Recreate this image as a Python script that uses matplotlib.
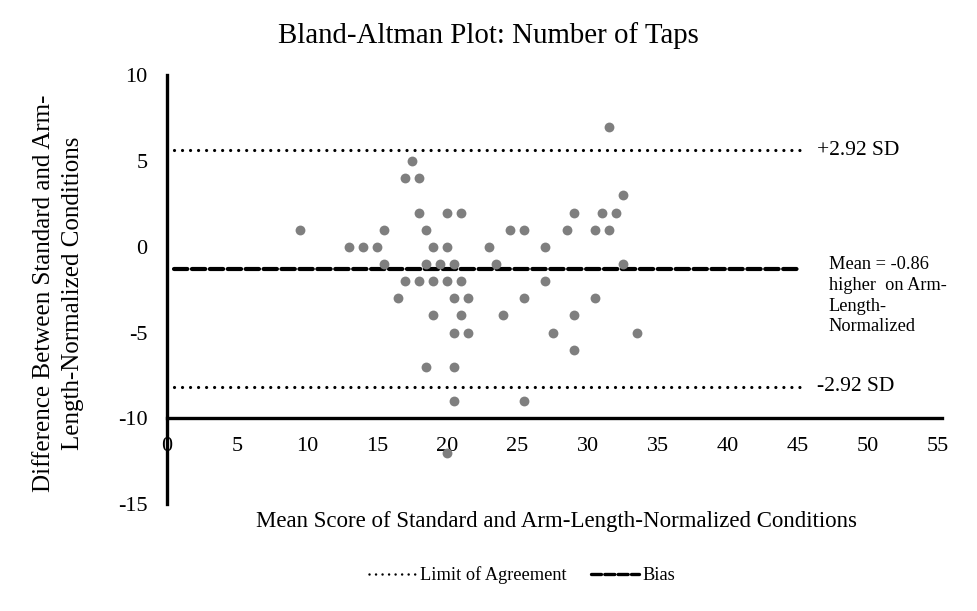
import matplotlib
matplotlib.use("Agg")
import matplotlib.pyplot as plt
from matplotlib.lines import Line2D

plt.rcParams['font.family'] = ['Liberation Serif', 'DejaVu Serif']
plt.rcParams['axes.unicode_minus'] = False

# ---- data ----
mean_scores = [9.5, 13, 14, 15, 15.5, 15.5, 16.5, 17, 18, 17.5,
               18, 20, 21, 18.5, 19, 20, 18.5, 19.5, 20.5,
               17, 18, 19, 20, 21, 20.5, 21.5, 19, 21, 20.5, 21.5,
               18.5, 20.5, 20.5, 20,
               23, 23.5, 24, 24.5, 25.5, 25.5, 25.5, 27, 27, 27.5, 28.5,
               29, 29, 29, 30.5, 30.5, 31.5, 31, 32, 32.5, 31.5, 32.5, 33.5]
differences = [1, 0, 0, 0, 1, -1, -3, 4, 4, 5,
               2, 2, 2, 1, 0, 0, -1, -1, -1,
               -2, -2, -2, -2, -2, -3, -3, -4, -4, -5, -5,
               -7, -7, -9, -12,
               0, -1, -4, 1, 1, -3, -9, 0, -2, -5, 1,
               2, -4, -6, -3, 1, 1, 2, 2, 3, 7, -1, -5]
bias = -1.27
upper_loa = 5.64
lower_loa = -8.17
line_x = [0.5, 45.3]
x_ticks = [0, 5, 10, 15, 20, 25, 30, 35, 40, 45, 50, 55]
y_ticks = [10, 5, 0, -5, -10, -15]

title = "Bland-Altman Plot: Number of Taps"
xlabel = "Mean Score of Standard and Arm-Length-Normalized Conditions"
ylabel = "Difference Between Standard and Arm-\nLength-Normalized Conditions"
upper_text = "+2.92 SD"
lower_text = "-2.92 SD"
mean_text = "Mean = -0.86\nhigher  on Arm-\nLength-\nNormalized"

W, H = 977, 611
fig = plt.figure(figsize=(W / 100, H / 100), dpi=100)
left, right = 167 / W, 938 / W
top, bottom = 1 - 75.5 / H, 1 - 504 / H
ax = fig.add_axes([left, bottom, right - left, top - bottom])
ax.set_xlim(0, 55)
ax.set_ylim(-15, 10)

for s in ['top', 'right']:
    ax.spines[s].set_visible(False)
ax.spines['left'].set_linewidth(2.4)
ax.spines['bottom'].set_linewidth(2.4)
ax.spines['bottom'].set_position(('data', -10))
ax.spines['bottom'].set_bounds(0, 55.3)
ax.set_xticks(x_ticks)
ax.set_yticks(y_ticks)
ax.tick_params(axis='x', length=0, pad=13.5, labelsize=16)
ax.tick_params(axis='y', length=0, pad=14, labelsize=16)

ax.plot(line_x, [upper_loa, upper_loa], color='black', lw=2.3,
        linestyle=(0, (0.01, 2.5)), dash_capstyle='round', zorder=2)
ax.plot(line_x, [lower_loa, lower_loa], color='black', lw=2.3,
        linestyle=(0, (0.01, 2.5)), dash_capstyle='round', zorder=2)
ax.plot([0.5, 45.0], [bias, bias], color='black', lw=3.0,
        linestyle=(0, (3.2, 1.1)), dash_capstyle='round', zorder=2)

ax.scatter(mean_scores, differences, s=50, color='#7f7f7f', linewidths=0, zorder=3)

ax.text(46.4, upper_loa, upper_text, fontsize=15.5, va='center', ha='left')
ax.text(46.4, lower_loa, lower_text, fontsize=15.5, va='center', ha='left')
ax.text(47.2, -2.85, mean_text, fontsize=13.2, va='center', ha='left', linespacing=1.29)

fig.text(488 / W, 1 - 36 / H, title, fontsize=20.8, ha='center', va='center')
fig.text(556 / W, 1 - 522 / H, xlabel, fontsize=16.5, ha='center', va='center')
fig.text(58.5 / W, 1 - 293 / H, ylabel, fontsize=18, ha='center', va='center',
         rotation=90, multialignment='center', linespacing=1.45)

h1 = Line2D([], [], color='black', lw=1.8, linestyle=(0, (0.01, 2.6)), dash_capstyle='round')
h2 = Line2D([], [], color='black', lw=2.4, linestyle=(0, (3.0, 1.0)), dash_capstyle='round')
fig.legend([h1, h2], ["Limit of Agreement", "Bias"], loc='center',
           bbox_to_anchor=(522 / W, 1 - 575 / H), ncol=2, frameon=False,
           fontsize=13.2, handlelength=2.6, handletextpad=0.2, columnspacing=1.3)

fig.savefig("out.png", dpi=100)
